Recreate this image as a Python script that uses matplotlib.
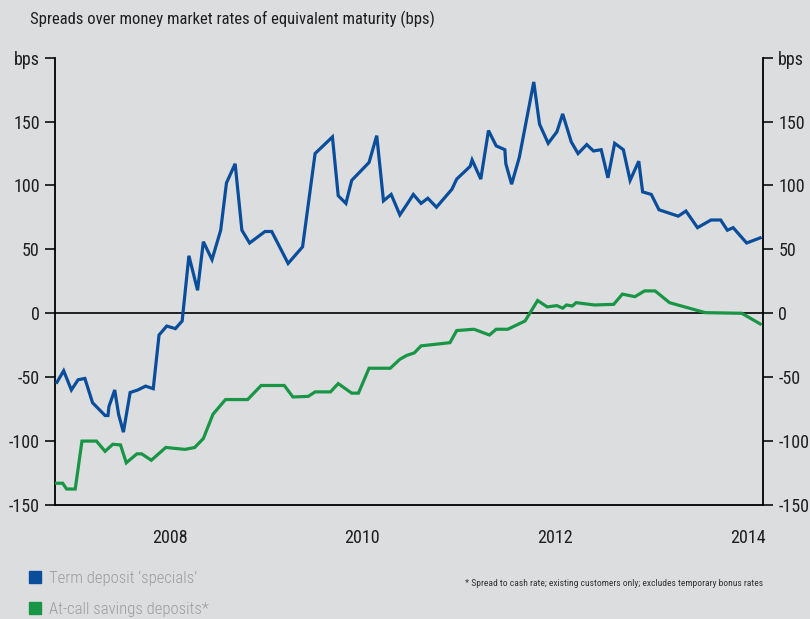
import matplotlib
matplotlib.use("Agg")
import matplotlib.pyplot as plt
from matplotlib.lines import Line2D

plt.rcParams['font.family'] = ['Roboto Condensed', 'Lato', 'DejaVu Sans']

# Term deposit 'specials' (decimal year, bps)
term_x = [2006.83, 2006.90, 2006.98, 2007.05, 2007.12, 2007.20, 2007.33, 2007.36,
          2007.37, 2007.43, 2007.47, 2007.52, 2007.59, 2007.67, 2007.75, 2007.83,
          2007.89, 2007.97, 2008.06, 2008.13, 2008.20, 2008.29, 2008.35, 2008.44,
          2008.53, 2008.59, 2008.68, 2008.75, 2008.83, 2008.99, 2009.06, 2009.23,
          2009.38, 2009.51, 2009.69, 2009.75, 2009.83, 2009.89, 2010.07, 2010.15,
          2010.22, 2010.30, 2010.39, 2010.47, 2010.53, 2010.61, 2010.68, 2010.77,
          2010.93, 2010.98, 2011.12, 2011.14, 2011.23, 2011.31, 2011.39, 2011.48,
          2011.49, 2011.55, 2011.63, 2011.78, 2011.84, 2011.93, 2012.02, 2012.08,
          2012.17, 2012.24, 2012.33, 2012.40, 2012.48, 2012.55, 2012.62, 2012.71,
          2012.78, 2012.87, 2012.91, 2013.00, 2013.08, 2013.28, 2013.36, 2013.48,
          2013.62, 2013.72, 2013.79, 2013.85, 2013.99, 2014.13]
term_y = [-54, -45, -60, -52, -51, -70, -80, -80,
          -73, -60, -79, -93, -62, -60, -57, -59,
          -17, -10, -12, -6, 45, 18, 56, 42,
          65, 102, 117, 65, 55, 64, 64, 39,
          52, 125, 138, 92, 86, 104, 118, 139,
          88, 93, 77, 86, 93, 86, 90, 83,
          97, 105, 115, 120, 105, 143, 131, 128,
          117, 101, 122, 181, 148, 133, 142, 156,
          134, 125, 132, 127, 128, 106, 133, 128,
          104, 119, 95, 93, 81, 76, 80, 67,
          73, 73, 65, 67, 55, 59]

# At-call savings deposits* (decimal year, bps)
call_x = [2006.81, 2006.89, 2006.93, 2007.02, 2007.09, 2007.24, 2007.33, 2007.41,
          2007.49, 2007.55, 2007.66, 2007.71, 2007.81, 2007.96, 2008.16, 2008.26,
          2008.35, 2008.45, 2008.58, 2008.73, 2008.81, 2008.95, 2009.19, 2009.28,
          2009.44, 2009.51, 2009.67, 2009.75, 2009.89, 2009.96, 2010.07, 2010.29,
          2010.39, 2010.46, 2010.54, 2010.61, 2010.91, 2010.98, 2011.16, 2011.32,
          2011.39, 2011.51, 2011.69, 2011.82, 2011.92, 2012.02, 2012.08, 2012.12,
          2012.18, 2012.22, 2012.41, 2012.61, 2012.70, 2012.83, 2012.93, 2013.04,
          2013.19, 2013.56, 2013.94, 2014.13]
call_y = [-133, -133, -137.5, -137.5, -100, -100, -108, -102.5,
          -103, -117, -110, -110, -115, -105, -106.5, -105,
          -98, -79, -67.5, -67.5, -67.5, -56.5, -56.5, -65.5,
          -65, -61.5, -61.5, -55, -62.5, -62.5, -43, -43,
          -36, -33, -31, -25.5, -23, -13.5, -12.5, -17,
          -12.5, -12.5, -6, 10, 5, 6, 4, 6.5,
          5.7, 8.3, 6.5, 7, 15, 13, 17.5, 17.5,
          8.3, 0.5, 0, -8.3]

y_ticks = [-150, -100, -50, 0, 50, 100, 150, 200]
y_labels = ['-150', '-100', '-50', '0', '50', '100', '150', 'bps']
x_ticks = [2008, 2010, 2012, 2014]
x_labels = ['2008', '2010', '2012', '2014']

series_names = ["Term deposit \u2018specials\u2019", "At-call savings deposits*"]

bg = '#dcdddf'
blue = '#0a4e9b'
green = '#189645'
ink = '#1e1e1e'

fig = plt.figure(figsize=(8.1, 6.19), dpi=100, facecolor=bg)
ax = fig.add_axes([0.0679, 0.1842, 0.8741, 0.7226], facecolor=bg)

ax.axhline(0, color='black', lw=1.2, zorder=1)
ax.plot(term_x, term_y, color=blue, lw=2.3, zorder=3, solid_joinstyle='miter')
ax.plot(call_x, call_y, color=green, lw=2.3, zorder=3, solid_joinstyle='miter')

ax.set_xlim(2006.81, 2014.16)
ax.set_ylim(-150, 200)

ax.set_yticks(y_ticks)
ax.set_yticklabels(y_labels)
ax.set_xticks(x_ticks)
ax.set_xticklabels(x_labels)

ax.tick_params(axis='y', which='both', direction='out', length=7, width=1.3,
               labelsize=13, colors=ink, pad=4, left=True, right=True,
               labelleft=True, labelright=True)
ax.tick_params(axis='x', length=0, labelsize=13, colors=ink, pad=17)

for side in ['left', 'right', 'bottom']:
    ax.spines[side].set_color('black')
    ax.spines[side].set_linewidth(1.3)
ax.spines['top'].set_visible(False)

fig.text(0.037, 0.968, "Spreads over money market rates of equivalent maturity (bps)",
         fontsize=12, color=ink, ha='left', va='center')

handles = [Line2D([], [], marker='s', linestyle='none', color=c, markersize=8.5)
           for c in (blue, green)]
fig.legend(handles, series_names, loc='upper left', bbox_to_anchor=(0.035, 0.079),
           frameon=False, prop={'size': 12, 'weight': 'light'}, labelcolor='#9c9c9c',
           handlelength=0.8, handletextpad=0.45, labelspacing=1.0, borderpad=0,
           borderaxespad=0)

fig.text(0.942, 0.058, "* Spread to cash rate; existing customers only; excludes temporary bonus rates",
         fontsize=6.8, color='#333333', ha='right', va='center')

fig.savefig('out.png', dpi=100, facecolor=bg)
